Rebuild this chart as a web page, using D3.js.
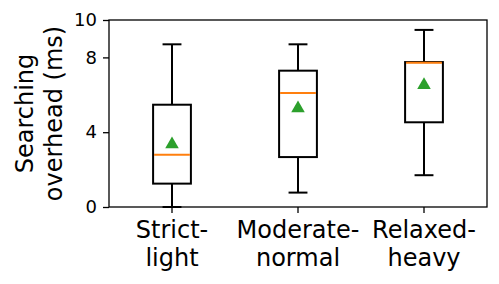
<!DOCTYPE html>
<html>
<head>
<meta charset="utf-8">
<script src="https://cdn.jsdelivr.net/npm/d3@7"></script>
<style>
  html, body { margin: 0; padding: 0; background: #fff; }
  text { font-family: "DejaVu Sans", sans-serif; fill: #000; }
</style>
</head>
<body>
<div id="chart"></div>
<script>
// categories (two-line tick labels)
const categories = ['Strict-light', 'Moderate-normal', 'Relaxed-heavy'];
const labelLines = [['Strict-', 'light'], ['Moderate-', 'normal'], ['Relaxed-', 'heavy']];

// box statistics (ms)
const whiskerLow = [0.0, 0.77, 1.7];
const q1 = [1.25, 2.67, 4.53];
const median = [2.8, 6.1, 7.72];
const q3 = [5.47, 7.29, 7.75];
const whiskerHigh = [8.7, 8.7, 9.47];
const mean = [3.35, 5.28, 6.52];

const yTicks = [0, 4, 8, 10];

const COLORS = {
    median: '#ff7f0e',
    mean: '#2ca02c',
    line: '#000'
};

const W = 499, H = 284;
const margin = { top: 20, right: 12, bottom: 77, left: 109 };
const width = W - margin.left - margin.right;
const height = H - margin.top - margin.bottom;

const svg = d3.select('#chart').append('svg')
    .attr('width', W)
    .attr('height', H);

const g = svg.append('g')
    .attr('transform', `translate(${margin.left},${margin.top})`);

const x = d3.scaleBand()
    .domain(categories)
    .range([0, width])
    .padding(0);

const y = d3.scaleLinear()
    .domain([0, 10])
    .range([height, 0]);

const boxW = x.bandwidth() * 0.3;

const data = categories.map((c, i) => ({
    cat: c,
    lo: whiskerLow[i], q1: q1[i], med: median[i], q3: q3[i], hi: whiskerHigh[i], mean: mean[i]
}));

// boxes
const boxes = g.selectAll('.box')
    .data(data)
    .enter()
    .append('g')
    .attr('class', 'box')
    .attr('transform', d => `translate(${x(d.cat) + x.bandwidth() / 2},0)`);

// whiskers
boxes.append('line')
    .attr('x1', 0).attr('x2', 0)
    .attr('y1', d => y(d.lo)).attr('y2', d => y(d.q1))
    .attr('stroke', COLORS.line).attr('stroke-width', 2);
boxes.append('line')
    .attr('x1', 0).attr('x2', 0)
    .attr('y1', d => y(d.q3)).attr('y2', d => y(d.hi))
    .attr('stroke', COLORS.line).attr('stroke-width', 2);
// caps
boxes.append('line')
    .attr('x1', -boxW / 4).attr('x2', boxW / 4)
    .attr('y1', d => y(d.lo)).attr('y2', d => y(d.lo))
    .attr('stroke', COLORS.line).attr('stroke-width', 2);
boxes.append('line')
    .attr('x1', -boxW / 4).attr('x2', boxW / 4)
    .attr('y1', d => y(d.hi)).attr('y2', d => y(d.hi))
    .attr('stroke', COLORS.line).attr('stroke-width', 2);

// box body
boxes.append('rect')
    .attr('x', -boxW / 2)
    .attr('width', boxW)
    .attr('y', d => y(d.q3))
    .attr('height', d => y(d.q1) - y(d.q3))
    .attr('fill', 'none')
    .attr('stroke', COLORS.line)
    .attr('stroke-width', 2);

// median
boxes.append('line')
    .attr('x1', -boxW / 2 + 1).attr('x2', boxW / 2 - 1)
    .attr('y1', d => y(d.med)).attr('y2', d => y(d.med))
    .attr('stroke', COLORS.median).attr('stroke-width', 2);

// mean marker
const tri = d3.symbol().type(d3.symbolTriangle).size(80);
boxes.append('path')
    .attr('d', tri)
    .attr('transform', d => `translate(0,${y(d.mean)})`)
    .attr('fill', COLORS.mean);

// axes
const xAxis = g.append('g')
    .attr('transform', `translate(0,${height})`)
    .call(d3.axisBottom(x).tickSize(6).tickFormat(''));
const yAxis = g.append('g')
    .call(d3.axisLeft(y).tickValues(yTicks).tickSize(6).tickPadding(6).tickFormat(d3.format('d')));

[xAxis, yAxis].forEach(a => {
    a.select('.domain').remove();
    a.selectAll('.tick line').attr('stroke', '#000').attr('stroke-width', 1.3);
});
yAxis.selectAll('.tick text')
    .style('font-size', '18px')
    .style('font-family', '"DejaVu Sans", sans-serif');

// frame
g.append('rect')
    .attr('width', width)
    .attr('height', height)
    .attr('fill', 'none')
    .attr('stroke', '#000')
    .attr('stroke-width', 1.3);

// x tick labels on two lines
xAxis.selectAll('.tick').each(function(d, i) {
    const t = d3.select(this).append('text')
        .attr('text-anchor', 'middle')
        .style('font-size', '24px')
        .style('fill', '#000');
    labelLines[i].forEach((line, j) => {
        t.append('tspan')
            .attr('x', 0)
            .attr('y', 31 + j * 28)
            .text(line);
    });
});

// y label
svg.append('text')
    .attr('transform', `translate(0,${margin.top + height / 2}) rotate(-90)`)
    .attr('text-anchor', 'middle')
    .style('font-size', '24px')
    .selectAll('tspan')
    .data(['Searching', 'overhead (ms)'])
    .enter()
    .append('tspan')
    .attr('x', 0)
    .attr('y', (d, i) => 33 + i * 29)
    .text(d => d);
</script>
</body>
</html>
